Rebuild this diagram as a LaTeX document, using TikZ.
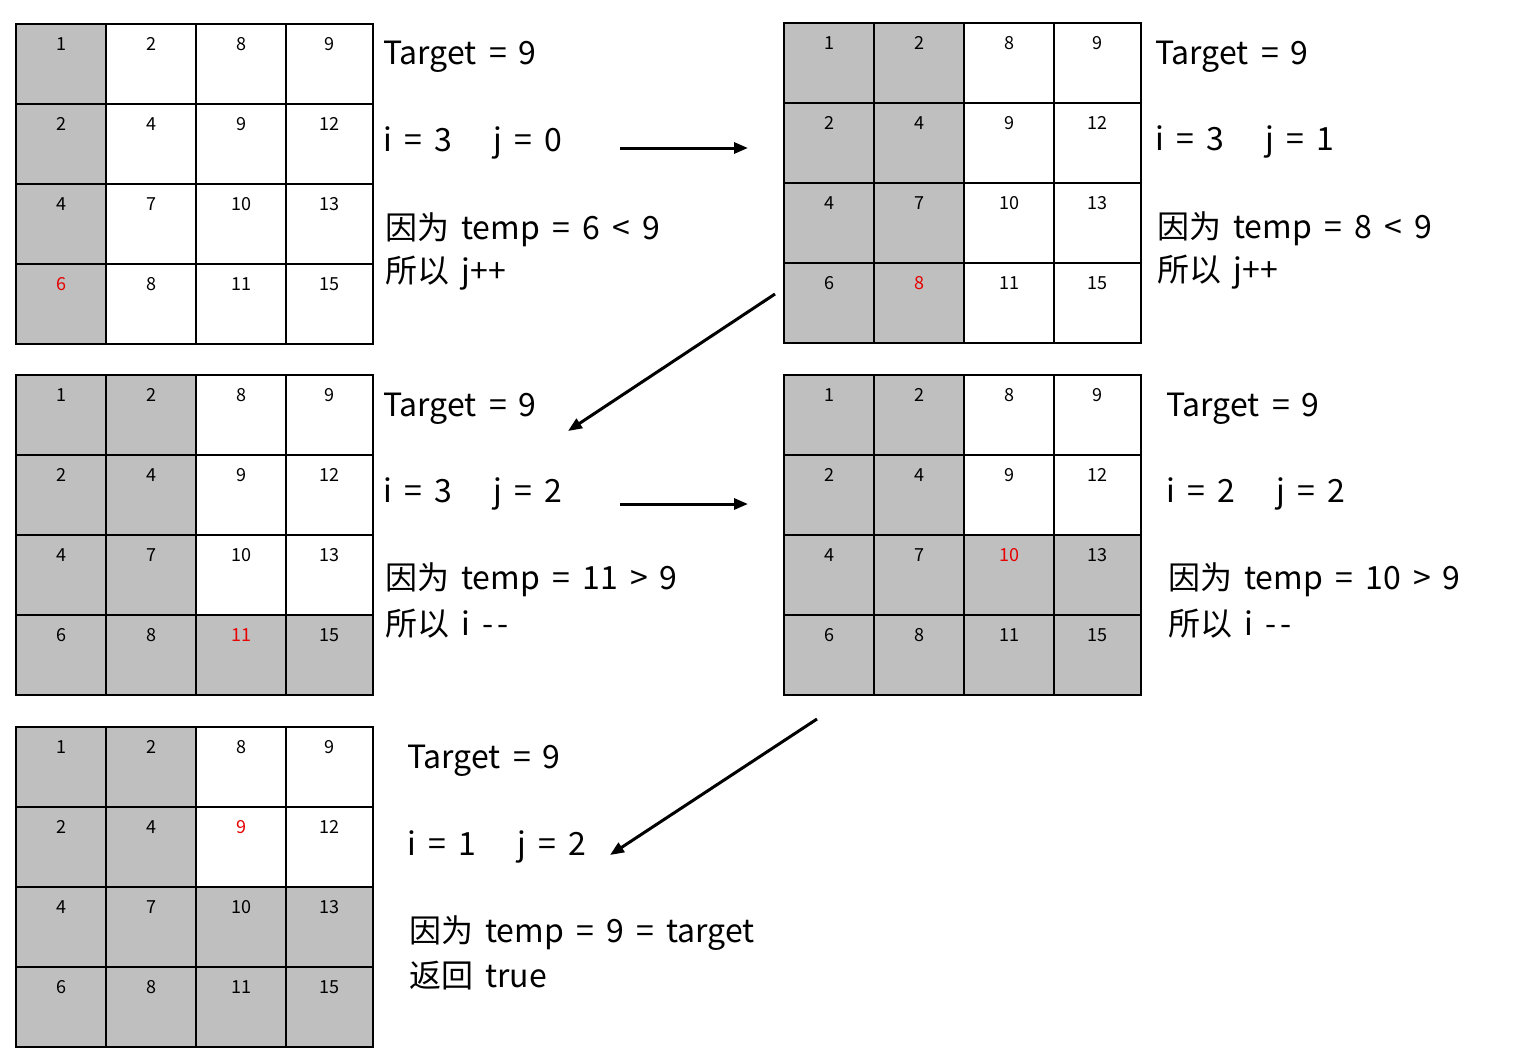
\documentclass[tikz,border=0pt]{standalone}
\usepackage{fontspec}
\setmainfont{Noto Sans CJK SC}[WordSpace={1.7,0,0}]
\usetikzlibrary{arrows.meta}
\definecolor{cellgray}{RGB}{191,191,191}
\definecolor{numred}{RGB}{230,0,0}
\tikzset{
 cellbox/.style={draw=black, line width=1.3pt},
 num/.style={font=\fontsize{18}{18}\selectfont, anchor=center},
 lab/.style={font=\fontsize{32}{32}\selectfont, anchor=west, inner sep=0pt},
 arr/.style={-{Triangle[length=14pt,width=11pt]}, line width=3pt},
}
\begin{document}
\begin{tikzpicture}[x=1pt,y=-1pt]
\useasboundingbox (0,0) rectangle (1526,1060);
\def\vals{{1,2,8,9},{2,4,9,12},{4,7,10,13},{6,8,11,15}}
\newcommand{\drawgrid}[4]{%
 \foreach \r in {0,...,3}{\foreach \c in {0,...,3}{
  \pgfmathsetmacro{\cw}{\c==3 ? 87 : 90}
  \pgfmathtruncatemacro{\isg}{#3}
  \pgfmathtruncatemacro{\idx}{\r*4+\c}
  \pgfmathtruncatemacro{\val}{{\vals}[\r][\c]}
  \pgfmathsetmacro{\cx}{\c==3 ? 43 : 45}
  \ifnum\isg=1 \def\fc{cellgray}\else\def\fc{white}\fi
  \ifnum\idx=#4 \def\tc{numred}\else\def\tc{black}\fi
  \path[cellbox, fill=\fc] (#1+\c*90,#2+\r*80) rectangle ++(\cw,80);
  \node[num, text=\tc] (n#1#2\r\c) at (#1+\c*90+\cx,#2+\r*80+20) {\val};
 }}
}
\drawgrid{16}{24}{\c==0}{12}
\drawgrid{784}{23}{\c<2}{13}
\drawgrid{16}{375}{or(\c<2,\r==3)}{14}
\drawgrid{784}{375}{or(\c<2,\r>1)}{10}
\drawgrid{16}{727}{or(\c<2,\r>1)}{6}
\node[lab] (t1a) at (383,57) {Target = 9};
\node[lab] (t1b) at (383,143) {i = 3 \ \, j = 0};
\node[lab] (t1c) at (385,230) {因为 temp = 6 < 9};
\node[lab] (t1d) at (385,273) {所以 j+\kern1pt+};
\node[lab] (t2a) at (1155,57) {Target = 9};
\node[lab] (t2b) at (1155,142) {i = 3 \ \, j = 1};
\node[lab] (t2c) at (1157,229) {因为 temp = 8 < 9};
\node[lab] (t2d) at (1157,272) {所以 j+\kern1pt+};
\node[lab] (t3a) at (383,409) {Target = 9};
\node[lab] (t3b) at (383,494) {i = 3 \ \, j = 2};
\node[lab] (t3c) at (385,580) {因为 temp = 11 > 9};
\node[lab] (t3d) at (385,624) {所以 i -\kern4pt-};
\node[lab] (t4a) at (1166,409) {Target = 9};
\node[lab] (t4b) at (1166,494) {i = 2 \ \, j = 2};
\node[lab] (t4c) at (1168,580) {因为 temp = 10 > 9};
\node[lab] (t4d) at (1168,624) {所以 i -\kern4pt-};
\node[lab] (t5a) at (407,761) {Target = 9};
\node[lab] (t5b) at (407,847) {i = 1 \ \, j = 2};
\node[lab] (t5c) at (409,933) {因为 temp = 9 = target};
\node[lab] (t5d) at (409,976) {返回 true};
\coordinate (a1s) at (620,148); \coordinate (a1e) at (748,148);
\coordinate (a2s) at (775,294); \coordinate (a2e) at (568,431);
\coordinate (a3s) at (620,504); \coordinate (a3e) at (748,504);
\coordinate (a4s) at (817,719); \coordinate (a4e) at (610,855);
\draw[arr] (a1s) -- (a1e);
\draw[arr] (a2s) -- (a2e);
\draw[arr] (a3s) -- (a3e);
\draw[arr] (a4s) -- (a4e);
\end{tikzpicture}
\end{document}
